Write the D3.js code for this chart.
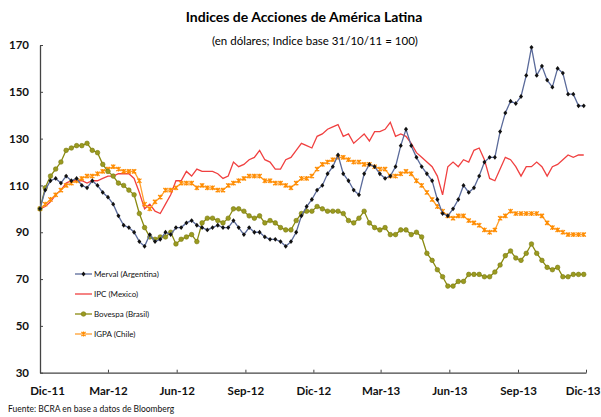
<!DOCTYPE html>
<html><head><meta charset="utf-8">
<script src="https://cdn.jsdelivr.net/npm/d3@7"></script>
<style>
html,body{margin:0;padding:0;background:#fff;}
svg{display:block;font-family:Lato,"Open Sans",sans-serif;}
</style></head>
<body><svg id="c" width="601" height="417"></svg>
<script>
const merval = [100,108,112,113,111,114,112,113,110,109,112,110,107,105,102,97,93,92,90,86,84,89,86,87,90,89,92,92,94,95,93,92,91,92,93,92,92,95,92,89,92,90,90,88,87,87,86,84,86,90,97,101,104,108,110,115,118,123,115,112,108,106,115,119,118,115,113,114,118,127,134,127,122,118,115,112,104,98,97,100,104,110,107,109,114,120,122,122,133,141,146,145,148,157,169,157,161,155,152,160,158,149,149,144,144];
const ipc = [100,101,103,106,108,111,112,112,112,111,112,112,113,114,114,115,115,115,113,107,100,102,99,98,102,106,112,112,116,114,117,116,116,116,115,113,114,120,118,119,121,122,125,121,120,117,117,121,122,125,128,127,126,131,132,134,135,136,131,132,128,130,132,129,133,133,134,137,131,132,131,128,124,122,120,118,114,106,118,120,118,121,120,125,126,121,113,112,117,122,121,118,114,118,118,120,118,114,118,119,121,123,122,123,123];
const bovespa = [100,109,114,117,120,125,126,127,127,128,125,124,119,116,114,111,110,108,106,98,92,88,87,88,88,90,85,87,88,89,86,94,96,96,95,94,96,100,100,99,97,96,97,94,95,94,92,91,91,95,98,99,99,101,100,99,99,99,98,95,94,96,99,94,92,91,92,89,89,91,91,89,90,88,81,78,74,71,67,67,69,69,72,72,72,71,71,73,76,80,82,79,78,81,85,81,78,75,74,75,71,71,72,72,72];
const igpa = [100,102,104,106,108,110,111,112,113,114,114,115,116,117,118,117,116,116,116,112,102,100,103,105,108,108,109,111,111,111,109,110,109,109,108,108,110,111,112,113,114,114,114,112,112,111,111,110,109,111,113,113,114,117,119,120,121,122,122,121,120,120,119,119,118,117,117,114,114,115,116,115,112,110,107,104,101,99,97,96,97,97,95,94,93,91,90,91,96,97,99,98,98,98,98,98,97,94,92,91,90,89,89,89,89];
const seriesNames = ["Merval (Argentina)","IPC (Mexico)","Bovespa (Brasil)","IGPA (Chile)"];
const xTickLabels = ["Dic-11","Mar-12","Jun-12","Sep-12","Dic-12","Mar-13","Jun-13","Sep-13","Dic-13"];
const yTicks = [30,50,70,90,110,130,150,170];

const start = new Date(2011,11,1);
const dates = merval.map((_,i)=>d3.timeDay.offset(start,7*i));
const tickDates = xTickLabels.map((_,i)=>d3.timeMonth.offset(start,3*i));

const svg = d3.select("#c");
const x = d3.scaleTime().domain([start, new Date(2013,11,1)]).range([40,586]);
const y = d3.scaleLinear().domain([30,170]).range([372.7,45]);

svg.append("text").attr("x",304).attr("y",22).attr("text-anchor","middle")
  .attr("font-weight","bold").attr("font-size",14).text("Indices de Acciones de América Latina");
svg.append("text").attr("x",315).attr("y",45).attr("text-anchor","middle")
  .attr("font-size",11.5).text("(en dólares; Indice base 31/10/11 = 100)");

// axes
const ya = svg.append("g").attr("transform","translate(40,0)")
  .call(d3.axisLeft(y).tickValues(yTicks).tickSize(-3).tickPadding(11).tickSizeOuter(0));
const xa = svg.append("g").attr("transform","translate(0,372.7)")
  .call(d3.axisBottom(x).tickValues(tickDates).tickSize(-3).tickPadding(14).tickSizeOuter(0)
  .tickFormat((d,i)=>xTickLabels[i]));
[ya,xa].forEach(g=>{
  g.select(".domain").attr("stroke","#444").attr("stroke-width",1.3);
  g.selectAll(".tick line").attr("stroke","#444");
  g.selectAll("text").attr("font-weight","bold").attr("font-size",11.5).attr("fill","#111")
   .attr("font-family","Lato,sans-serif");
});
xa.selectAll(".tick text").attr("dy","0.71em");
const xt = xa.selectAll(".tick text").nodes();
d3.select(xt[0]).attr("dx",7);
d3.select(xt[xt.length-1]).attr("text-anchor","end").attr("dx",14);

const line = d3.line().x((d,i)=>x(dates[i])).y(d=>y(d));

const cfg = [
  {data:ipc, line:"#f04040", marker:null},
  {data:igpa, line:"#ffa030", marker:"x", mc:"#ff8c00"},
  {data:bovespa, line:"#8a8a10", marker:"circle", mc:"#9a9a20"},
  {data:merval, line:"#5a6a9a", marker:"diamond", mc:"#111"}
];
function drawMarker(g, type, mc, px, py){
  if(type==="circle"){
    g.append("circle").attr("cx",px).attr("cy",py).attr("r",2.3).attr("fill",mc).attr("stroke","#7a7a10").attr("stroke-width",0.6);
  } else if(type==="diamond"){
    g.append("path").attr("d",`M${px},${py-2.4}L${px+2},${py}L${px},${py+2.4}L${px-2},${py}Z`).attr("fill",mc);
  } else if(type==="x"){
    g.append("path").attr("d",`M${px-2.1},${py-2.1}L${px+2.1},${py+2.1}M${px-2.1},${py+2.1}L${px+2.1},${py-2.1}M${px},${py-2.4}L${px},${py+2.4}`)
      .attr("stroke",mc).attr("stroke-width",1.2);
  }
}
cfg.forEach(c=>{
  const g = svg.append("g");
  g.append("path").datum(c.data).attr("d",line).attr("fill","none").attr("stroke",c.line).attr("stroke-width",1.3);
  if(c.marker){
    c.data.forEach((v,i)=>drawMarker(g,c.marker,c.mc,x(dates[i]),y(v)));
  }
});

// legend
const leg = [
  {name:seriesNames[0], line:"#5a6a9a", marker:"diamond", mc:"#111"},
  {name:seriesNames[1], line:"#f04040", marker:null},
  {name:seriesNames[2], line:"#8a8a10", marker:"circle", mc:"#9a9a20"},
  {name:seriesNames[3], line:"#ffa030", marker:"x", mc:"#ff8c00"}
];
leg.forEach((l,i)=>{
  const ly = 274 + i*20;
  const g = svg.append("g");
  g.append("line").attr("x1",75).attr("x2",92).attr("y1",ly).attr("y2",ly).attr("stroke",l.line).attr("stroke-width",1.3);
  if(l.marker) drawMarker(g,l.marker,l.mc,83.5,ly);
  g.append("text").attr("x",94).attr("y",ly+3).attr("font-size",8).attr("fill","#111").text(l.name);
});

svg.append("text").attr("x",8).attr("y",412).attr("font-size",8.5).attr("fill","#111")
  .text("Fuente: BCRA en base a datos de Bloomberg");
</script></body></html>
